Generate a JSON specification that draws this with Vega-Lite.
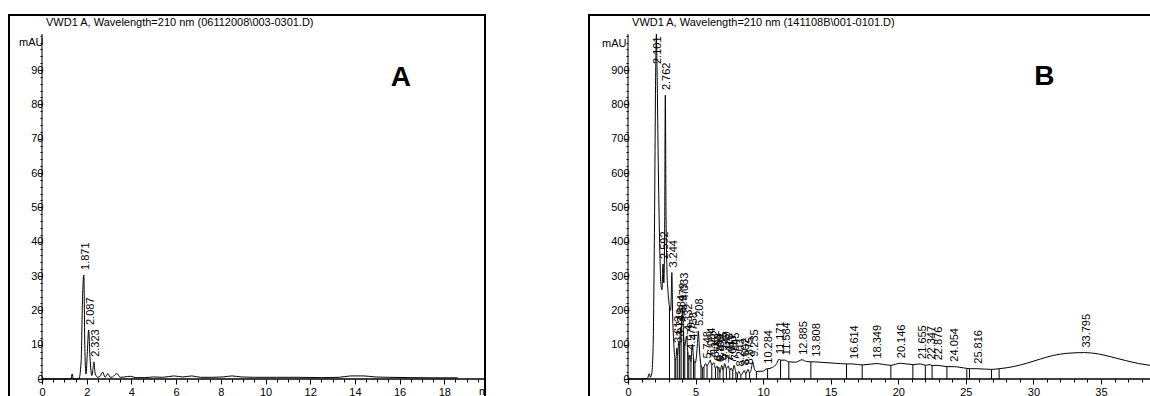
{
  "$schema": "https://vega.github.io/schema/vega-lite/v6.json",
  "padding": {"left": 7, "top": 13, "right": 0, "bottom": 0},
  "spacing": 100,
  "config": {
    "font": "Liberation Sans",
    "view": {"stroke": "black", "strokeWidth": 2},
    "axis": {"grid": false, "domain": false, "labelFont": "Liberation Sans", "labelFontSize": 11, "labelColor": "black", "tickColor": "black", "tickWidth": 1, "labelOverlap": false, "labelFlush": false, "labelBound": false}
  },
  "datasets": {
    "one": [{}],
    "traceA": [
      {"t": 0, "v": 0}, {"t": 1.3, "v": 0}, {"t": 1.35, "v": 1.5}, {"t": 1.4, "v": 0}, {"t": 1.65, "v": 0},
      {"t": 1.75, "v": 5}, {"t": 1.82, "v": 25}, {"t": 1.871, "v": 30.3}, {"t": 1.92, "v": 8}, {"t": 1.97, "v": 1.5},
      {"t": 2.03, "v": 8}, {"t": 2.087, "v": 14.3}, {"t": 2.15, "v": 6}, {"t": 2.23, "v": 1}, {"t": 2.28, "v": 3},
      {"t": 2.323, "v": 5}, {"t": 2.38, "v": 1.5}, {"t": 2.5, "v": 0.5}, {"t": 2.6, "v": 0.8}, {"t": 2.72, "v": 2.0},
      {"t": 2.82, "v": 0.5}, {"t": 2.95, "v": 1.6}, {"t": 3.05, "v": 0.5}, {"t": 3.15, "v": 0.6}, {"t": 3.35, "v": 1.6},
      {"t": 3.5, "v": 0.5}, {"t": 3.7, "v": 0.6}, {"t": 3.95, "v": 0.8}, {"t": 4.2, "v": 0.4}, {"t": 4.6, "v": 0.4},
      {"t": 5.0, "v": 0.6}, {"t": 5.4, "v": 0.5}, {"t": 5.9, "v": 0.9}, {"t": 6.3, "v": 0.6}, {"t": 6.7, "v": 0.9},
      {"t": 7.1, "v": 0.5}, {"t": 7.6, "v": 0.5}, {"t": 8.1, "v": 0.6}, {"t": 8.5, "v": 0.9}, {"t": 8.9, "v": 0.6},
      {"t": 9.5, "v": 0.5}, {"t": 10.5, "v": 0.5}, {"t": 11.5, "v": 0.5}, {"t": 12.5, "v": 0.4}, {"t": 13.3, "v": 0.5},
      {"t": 13.8, "v": 0.9}, {"t": 14.4, "v": 0.9}, {"t": 14.9, "v": 0.6}, {"t": 15.5, "v": 0.5}, {"t": 16.5, "v": 0.4},
      {"t": 17.5, "v": 0.35}, {"t": 18.6, "v": 0.35}
    ],
    "peaksA": [
      {"rt": 1.871, "v": 30.3}, {"rt": 2.087, "v": 14.3}, {"rt": 2.323, "v": 5}
    ],
    "traceB": [
      {"t": 0, "v": 0}, {"t": 1.0, "v": 0}, {"t": 1.45, "v": 2}, {"t": 1.55, "v": 15}, {"t": 1.6, "v": 15},
      {"t": 1.65, "v": 5}, {"t": 1.75, "v": 15}, {"t": 1.85, "v": 80}, {"t": 1.95, "v": 400}, {"t": 2.05, "v": 900},
      {"t": 2.101, "v": 1005}, {"t": 2.15, "v": 900}, {"t": 2.25, "v": 600}, {"t": 2.35, "v": 380}, {"t": 2.45, "v": 270},
      {"t": 2.52, "v": 260}, {"t": 2.592, "v": 335}, {"t": 2.65, "v": 280}, {"t": 2.71, "v": 420}, {"t": 2.762, "v": 827},
      {"t": 2.81, "v": 500}, {"t": 2.88, "v": 320}, {"t": 2.97, "v": 250}, {"t": 3.07, "v": 210}, {"t": 3.15, "v": 200},
      {"t": 3.2, "v": 240}, {"t": 3.244, "v": 310}, {"t": 3.3, "v": 190}, {"t": 3.38, "v": 110}, {"t": 3.47, "v": 60},
      {"t": 3.54, "v": 55}, {"t": 3.613, "v": 90}, {"t": 3.68, "v": 70}, {"t": 3.749, "v": 110}, {"t": 3.82, "v": 95},
      {"t": 3.884, "v": 150}, {"t": 3.93, "v": 130}, {"t": 3.979, "v": 185}, {"t": 4.0, "v": 170}, {"t": 4.033, "v": 215},
      {"t": 4.1, "v": 140}, {"t": 4.2, "v": 95}, {"t": 4.332, "v": 125}, {"t": 4.42, "v": 80}, {"t": 4.5, "v": 55},
      {"t": 4.579, "v": 70}, {"t": 4.66, "v": 50}, {"t": 4.758, "v": 100}, {"t": 4.85, "v": 60}, {"t": 4.95, "v": 45},
      {"t": 5.05, "v": 60}, {"t": 5.15, "v": 110}, {"t": 5.208, "v": 140}, {"t": 5.28, "v": 90}, {"t": 5.4, "v": 40},
      {"t": 5.5, "v": 32}, {"t": 5.62, "v": 35}, {"t": 5.748, "v": 45}, {"t": 5.85, "v": 38}, {"t": 5.95, "v": 45},
      {"t": 6.084, "v": 55}, {"t": 6.2, "v": 40}, {"t": 6.352, "v": 48}, {"t": 6.47, "v": 30}, {"t": 6.593, "v": 38},
      {"t": 6.65, "v": 30}, {"t": 6.709, "v": 35}, {"t": 6.8, "v": 18}, {"t": 6.935, "v": 40}, {"t": 7.04, "v": 25},
      {"t": 7.149, "v": 45}, {"t": 7.28, "v": 30}, {"t": 7.418, "v": 38}, {"t": 7.53, "v": 25}, {"t": 7.643, "v": 32},
      {"t": 7.75, "v": 22}, {"t": 7.845, "v": 40}, {"t": 7.98, "v": 20}, {"t": 8.1, "v": 15}, {"t": 8.203, "v": 22},
      {"t": 8.35, "v": 12}, {"t": 8.45, "v": 15}, {"t": 8.602, "v": 25}, {"t": 8.72, "v": 15}, {"t": 8.875, "v": 28},
      {"t": 9.0, "v": 18}, {"t": 9.1, "v": 25}, {"t": 9.235, "v": 50}, {"t": 9.35, "v": 30}, {"t": 9.5, "v": 22},
      {"t": 10.0, "v": 23}, {"t": 10.284, "v": 30}, {"t": 10.33, "v": 30}, {"t": 10.7, "v": 34}, {"t": 11.0, "v": 45},
      {"t": 11.171, "v": 58}, {"t": 11.29, "v": 55}, {"t": 11.584, "v": 55}, {"t": 11.9, "v": 50}, {"t": 12.4, "v": 49},
      {"t": 12.885, "v": 56}, {"t": 13.2, "v": 51}, {"t": 13.53, "v": 50}, {"t": 13.808, "v": 50}, {"t": 14.5, "v": 48},
      {"t": 15.3, "v": 46}, {"t": 16.17, "v": 44}, {"t": 16.614, "v": 44}, {"t": 17.33, "v": 41}, {"t": 18.349, "v": 45},
      {"t": 19.45, "v": 40}, {"t": 20.146, "v": 46}, {"t": 21.08, "v": 42}, {"t": 21.655, "v": 44}, {"t": 22.0, "v": 40},
      {"t": 22.347, "v": 42}, {"t": 22.5, "v": 39}, {"t": 22.876, "v": 40}, {"t": 23.6, "v": 36}, {"t": 24.054, "v": 36},
      {"t": 25.07, "v": 31}, {"t": 25.27, "v": 30}, {"t": 25.816, "v": 30}, {"t": 26.9, "v": 28}, {"t": 27.46, "v": 30},
      {"t": 28.5, "v": 36}, {"t": 29.5, "v": 46}, {"t": 30.5, "v": 58}, {"t": 31.5, "v": 69}, {"t": 32.5, "v": 75},
      {"t": 33.795, "v": 77}, {"t": 34.8, "v": 73}, {"t": 35.8, "v": 64}, {"t": 36.8, "v": 54}, {"t": 37.8, "v": 45},
      {"t": 38.6, "v": 40}, {"t": 39.07, "v": 37}
    ],
    "peaksB": [
      {"rt": 2.101, "v": 1005}, {"rt": 2.592, "v": 335}, {"rt": 2.762, "v": 827}, {"rt": 3.244, "v": 310},
      {"rt": 3.613, "v": 90}, {"rt": 3.749, "v": 110}, {"rt": 3.884, "v": 150}, {"rt": 3.979, "v": 185},
      {"rt": 4.033, "v": 215}, {"rt": 4.332, "v": 125}, {"rt": 4.579, "v": 70}, {"rt": 4.758, "v": 100},
      {"rt": 5.208, "v": 140}, {"rt": 5.748, "v": 45}, {"rt": 6.084, "v": 55}, {"rt": 6.352, "v": 48},
      {"rt": 6.593, "v": 38}, {"rt": 6.709, "v": 35}, {"rt": 6.935, "v": 40}, {"rt": 7.149, "v": 45},
      {"rt": 7.418, "v": 38}, {"rt": 7.643, "v": 32}, {"rt": 7.845, "v": 40}, {"rt": 8.203, "v": 22},
      {"rt": 8.602, "v": 25}, {"rt": 8.875, "v": 28}, {"rt": 9.235, "v": 50}, {"rt": 10.284, "v": 30},
      {"rt": 11.171, "v": 58}, {"rt": 11.584, "v": 55}, {"rt": 12.885, "v": 56}, {"rt": 13.808, "v": 50},
      {"rt": 16.614, "v": 44}, {"rt": 18.349, "v": 45}, {"rt": 20.146, "v": 46}, {"rt": 21.655, "v": 44},
      {"rt": 22.347, "v": 42}, {"rt": 22.876, "v": 40}, {"rt": 24.054, "v": 36}, {"rt": 25.816, "v": 30},
      {"rt": 33.795, "v": 77}
    ],
    "dropB": [
      {"t": 3.07, "v": 210}, {"t": 3.47, "v": 60}, {"t": 3.54, "v": 55}, {"t": 3.68, "v": 70}, {"t": 3.82, "v": 95},
      {"t": 3.93, "v": 130}, {"t": 4.1, "v": 140}, {"t": 4.2, "v": 95}, {"t": 4.42, "v": 80}, {"t": 4.5, "v": 55},
      {"t": 4.66, "v": 50}, {"t": 4.85, "v": 60}, {"t": 4.95, "v": 45}, {"t": 5.4, "v": 40}, {"t": 5.5, "v": 32},
      {"t": 5.62, "v": 35}, {"t": 5.85, "v": 38}, {"t": 6.2, "v": 40}, {"t": 6.47, "v": 30}, {"t": 6.65, "v": 30},
      {"t": 6.8, "v": 18}, {"t": 7.04, "v": 25}, {"t": 7.28, "v": 30}, {"t": 7.53, "v": 25}, {"t": 7.75, "v": 22},
      {"t": 7.98, "v": 20}, {"t": 8.1, "v": 15}, {"t": 8.35, "v": 12}, {"t": 8.72, "v": 15}, {"t": 9.0, "v": 18},
      {"t": 9.5, "v": 22}, {"t": 10.33, "v": 30}, {"t": 11.29, "v": 55}, {"t": 11.9, "v": 50}, {"t": 13.53, "v": 50},
      {"t": 16.17, "v": 44}, {"t": 17.33, "v": 41}, {"t": 19.45, "v": 40}, {"t": 21.08, "v": 42}, {"t": 22.0, "v": 40},
      {"t": 22.5, "v": 39}, {"t": 23.6, "v": 36}, {"t": 25.07, "v": 31}, {"t": 25.27, "v": 30}, {"t": 26.9, "v": 28},
      {"t": 27.46, "v": 30}
    ]
  },
  "hconcat": [
    {
      "width": 476,
      "height": 383,
      "resolve": {"axis": {"x": "independent", "y": "independent"}},
      "layer": [
        {
          "data": {"name": "traceA"},
          "mark": {"type": "line", "color": "black", "strokeWidth": 1, "interpolate": "monotone"},
          "encoding": {
            "x": {"field": "t", "type": "quantitative", "scale": {"domain": [-1.476, 19.82], "nice": false, "zero": false},
              "axis": {"orient": "bottom", "offset": -19, "title": null, "labelOverlap": false,
                "values": [0,2,4,6,8,10,12,14,16,18],
                "tickSize": 5, "labelPadding": 2}},
            "y": {"field": "v", "type": "quantitative", "scale": {"domain": [-5.53, 106.03], "nice": false, "zero": false},
              "axis": {"orient": "left", "offset": -33, "labelOverlap": false,
                "values": [0,10,20,30,40,50,60,70,80,90],
                "tickSize": 4, "labelPadding": -5,
                "title": "mAU", "titleAngle": 0, "titleAlign": "right", "titleBaseline": "middle", "titleX": 1, "titleY": 27,
                "titleFont": "Liberation Sans", "titleFontSize": 11, "titleFontWeight": "normal", "titleColor": "black"}}
          }
        },
        {
          "data": {"name": "peaksA"},
          "mark": {"type": "text", "angle": 270, "align": "left", "baseline": "middle", "dx": 5, "dy": 2, "fontSize": 11, "color": "black"},
          "encoding": {
            "x": {"field": "rt", "type": "quantitative",
              "axis": {"orient": "bottom", "offset": -19, "title": null, "labels": false, "tickSize": 3,
                "values": [0.5,1,1.5,2.5,3,3.5,4.5,5,5.5,6.5,7,7.5,8.5,9,9.5,10.5,11,11.5,12.5,13,13.5,14.5,15,15.5,16.5,17,17.5,18.5,19,19.5]}},
            "y": {"field": "v", "type": "quantitative",
              "axis": {"orient": "left", "offset": -33, "title": null, "labels": false, "tickSize": 2,
                "values": [2,4,6,8,12,14,16,18,22,24,26,28,32,34,36,38,42,44,46,48,52,54,56,58,62,64,66,68,72,74,76,78,82,84,86,88,92,94,96,98,100]}},
            "text": {"field": "rt", "type": "quantitative", "format": ".3f"}
          }
        },
        {
          "data": {"name": "one"},
          "mark": {"type": "rule", "color": "black", "strokeWidth": 2},
          "encoding": {"x": {"datum": -1.476, "type": "quantitative", "axis": null}, "x2": {"datum": 19.82}, "y": {"datum": 106.03, "type": "quantitative", "axis": null}}
        },
        {
          "data": {"name": "one"},
          "mark": {"type": "rule", "color": "black", "strokeWidth": 1},
          "encoding": {"x": {"datum": 0, "type": "quantitative", "axis": null}, "y": {"datum": 0, "type": "quantitative", "axis": null}, "y2": {"datum": 100.5}}
        },
        {
          "data": {"name": "one"},
          "mark": {"type": "rule", "color": "black", "strokeWidth": 1.6},
          "encoding": {"x": {"datum": 0, "type": "quantitative", "axis": null}, "x2": {"datum": 19.82}, "y": {"datum": 0, "type": "quantitative", "axis": null}}
        },
        {
          "data": {"name": "one"},
          "mark": {"type": "text", "align": "left", "baseline": "alphabetic", "fontSize": 11, "color": "black"},
          "encoding": {"x": {"datum": 0.18, "type": "quantitative", "axis": null}, "y": {"datum": 102.8, "type": "quantitative", "axis": null}, "text": {"value": "VWD1 A, Wavelength=210 nm (06112008\\003-0301.D)"}}
        },
        {
          "data": {"name": "one"},
          "mark": {"type": "text", "clip": true, "align": "left", "baseline": "middle", "fontSize": 11, "color": "black"},
          "encoding": {"x": {"datum": 19.55, "type": "quantitative", "axis": null}, "y": {"datum": -3.8, "type": "quantitative", "axis": null}, "text": {"value": "min"}}
        },
        {
          "data": {"name": "one"},
          "mark": {"type": "text", "align": "center", "baseline": "alphabetic", "fontSize": 28, "fontWeight": "bold", "color": "black"},
          "encoding": {"x": {"datum": 16.06, "type": "quantitative", "axis": null}, "y": {"datum": 85.3, "type": "quantitative", "axis": null}, "text": {"value": "A"}}
        }
      ]
    },
    {
      "width": 567,
      "height": 383,
      "resolve": {"axis": {"x": "independent", "y": "independent"}},
      "layer": [
        {
          "data": {"name": "traceB"},
          "mark": {"type": "line", "color": "black", "strokeWidth": 1, "interpolate": "monotone"},
          "encoding": {
            "x": {"field": "t", "type": "quantitative", "scale": {"domain": [-2.886, 39.07], "nice": false, "zero": false},
              "axis": {"orient": "bottom", "offset": -19, "title": null, "labelOverlap": false,
                "values": [0,5,10,15,20,25,30,35],
                "tickSize": 5, "labelPadding": 2}},
            "y": {"field": "v", "type": "quantitative", "scale": {"domain": [-55.3, 1060.3], "nice": false, "zero": false},
              "axis": {"orient": "left", "offset": -39, "labelOverlap": false,
                "values": [0,100,200,300,400,500,600,700,800,900],
                "tickSize": 4, "labelPadding": -5,
                "title": "mAU", "titleAngle": 0, "titleAlign": "right", "titleBaseline": "middle", "titleX": -2, "titleY": 28,
                "titleFont": "Liberation Sans", "titleFontSize": 11, "titleFontWeight": "normal", "titleColor": "black"}}
          }
        },
        {
          "data": {"name": "dropB"},
          "mark": {"type": "rule", "color": "black", "strokeWidth": 1},
          "encoding": {"x": {"field": "t", "type": "quantitative", "axis": null}, "y": {"field": "v", "type": "quantitative", "axis": null}, "y2": {"datum": 0}}
        },
        {
          "data": {"name": "peaksB"},
          "transform": [{"calculate": "min(datum.v, 903)", "as": "labelAt"}],
          "mark": {"type": "text", "angle": 270, "align": "left", "baseline": "middle", "dx": 5, "dy": 2, "fontSize": 11, "color": "black"},
          "encoding": {
            "x": {"field": "rt", "type": "quantitative",
              "axis": {"orient": "bottom", "offset": -19, "title": null, "labels": false, "tickSize": 3,
                "values": [1,2,3,4,6,7,8,9,11,12,13,14,16,17,18,19,21,22,23,24,26,27,28,29,31,32,33,34,36,37,38,39]}},
            "y": {"field": "labelAt", "type": "quantitative",
              "axis": {"orient": "left", "offset": -39, "title": null, "labels": false, "tickSize": 2,
                "values": [20,40,60,80,120,140,160,180,220,240,260,280,320,340,360,380,420,440,460,480,520,540,560,580,620,640,660,680,720,740,760,780,820,840,860,880,920,940,960,980,1000]}},
            "text": {"field": "rt", "type": "quantitative", "format": ".3f"}
          }
        },
        {
          "data": {"name": "one"},
          "mark": {"type": "rule", "color": "black", "strokeWidth": 2},
          "encoding": {"x": {"datum": -2.886, "type": "quantitative", "axis": null}, "x2": {"datum": 39.07}, "y": {"datum": 1060.3, "type": "quantitative", "axis": null}}
        },
        {
          "data": {"name": "one"},
          "mark": {"type": "rule", "color": "black", "strokeWidth": 1},
          "encoding": {"x": {"datum": 0, "type": "quantitative", "axis": null}, "y": {"datum": 0, "type": "quantitative", "axis": null}, "y2": {"datum": 1005}}
        },
        {
          "data": {"name": "one"},
          "mark": {"type": "rule", "color": "black", "strokeWidth": 1.6},
          "encoding": {"x": {"datum": 0, "type": "quantitative", "axis": null}, "x2": {"datum": 39.07}, "y": {"datum": 0, "type": "quantitative", "axis": null}}
        },
        {
          "data": {"name": "one"},
          "mark": {"type": "text", "align": "left", "baseline": "alphabetic", "fontSize": 11, "color": "black"},
          "encoding": {"x": {"datum": 0.3, "type": "quantitative", "axis": null}, "y": {"datum": 1028, "type": "quantitative", "axis": null}, "text": {"value": "VWD1 A, Wavelength=210 nm (141108B\\001-0101.D)"}}
        },
        {
          "data": {"name": "one"},
          "mark": {"type": "text", "align": "center", "baseline": "alphabetic", "fontSize": 28, "fontWeight": "bold", "color": "black"},
          "encoding": {"x": {"datum": 30.8, "type": "quantitative", "axis": null}, "y": {"datum": 856, "type": "quantitative", "axis": null}, "text": {"value": "B"}}
        }
      ]
    }
  ]
}
